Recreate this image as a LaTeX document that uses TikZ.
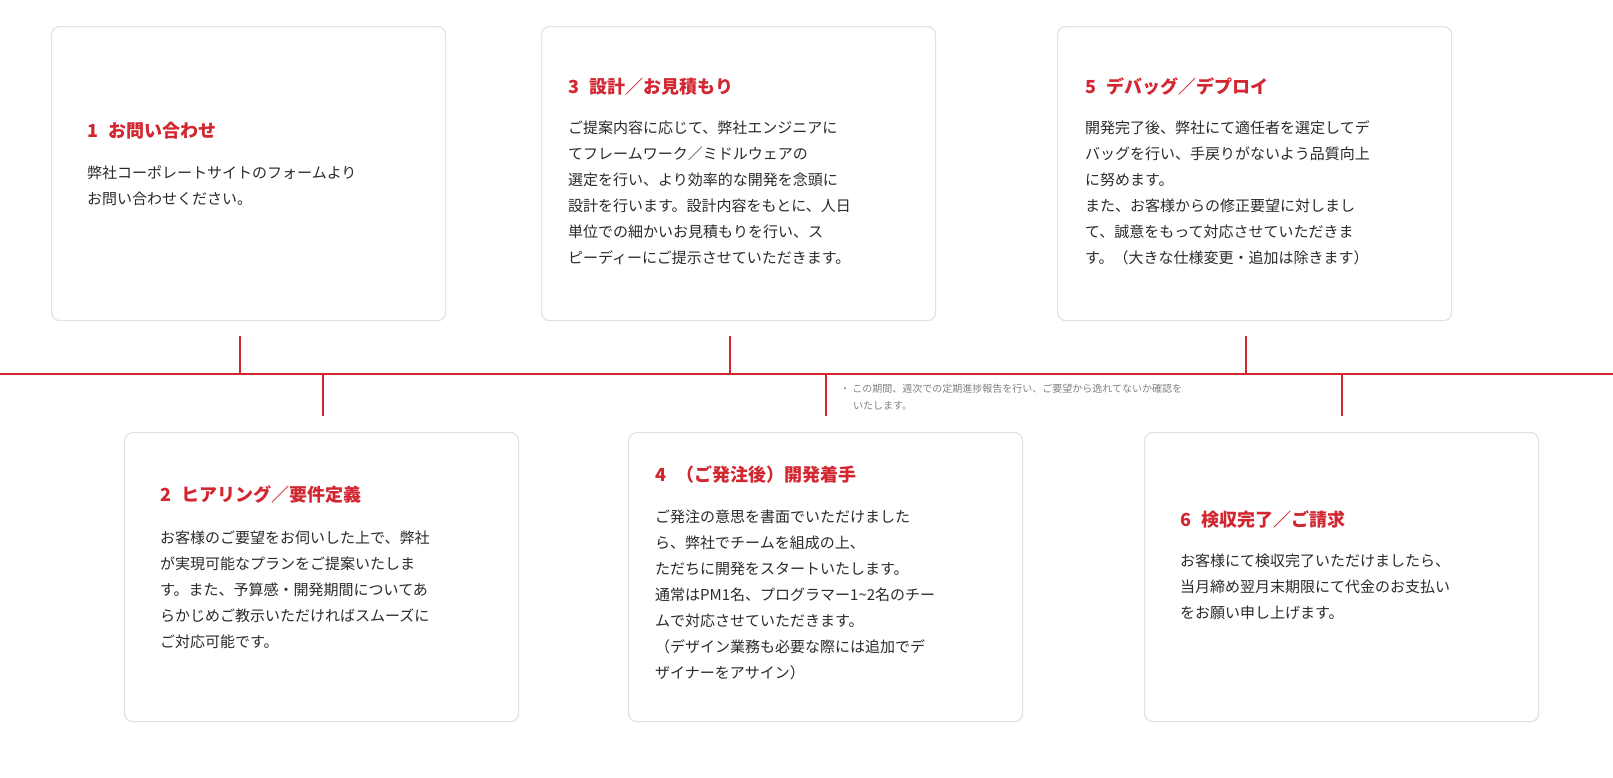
\documentclass[tikz,border=0pt]{standalone}
\usepackage{fontspec}
\setmainfont{Noto Sans CJK JP}
\usetikzlibrary{positioning}
\definecolor{accent}{HTML}{D22630}
\definecolor{bodytext}{HTML}{2A2A2A}
\definecolor{cardline}{HTML}{E2E2E2}
\tikzset{
  card/.style={draw=cardline,line width=1.2pt,rounded corners=8pt,fill=white,minimum width=394pt,inner sep=0pt},
  ctitle/.style={anchor=west,inner sep=0pt,text=accent,font=\fontsize{18}{22}\selectfont\bfseries},
  ctext/.style={anchor=north west,inner sep=0pt,align=left,text=bodytext,font=\fontsize{15}{26}\selectfont},
  tick/.style={draw=accent,line width=2pt}
}
\begin{document}
\begin{tikzpicture}[x=1pt,y=-1pt]
% upper cards
\node[card,minimum height=294pt,anchor=north west] (c1) at (51,26) {};
\node[card,minimum height=294pt,anchor=north west] (c3) at (541,26) {};
\node[card,minimum height=294pt,anchor=north west] (c5) at (1057,26) {};
% lower cards
\node[card,minimum height=289pt,anchor=north west] (c2) at (124,432) {};
\node[card,minimum height=289pt,anchor=north west] (c4) at (628,432) {};
\node[card,minimum height=289pt,anchor=north west] (c6) at (1144,432) {};

\node[ctitle] (t1) at (87,131) {1\hspace{0.6em}お問い合わせ};
\node[ctext] (x1) at (87,166) {弊社コーポレートサイトのフォームより\\お問い合わせください。};

\node[ctitle] (t3) at (568,87) {3\hspace{0.6em}設計／お見積もり};
\node[ctext] (x3) at (568,121) {ご提案内容に応じて、弊社エンジニアに\\てフレームワーク／ミドルウェアの\\選定を行い、より効率的な開発を念頭に\\設計を行います。設計内容をもとに、人日\\単位での細かいお見積もりを行い、ス\\ピーディーにご提示させていただきます。};

\node[ctitle] (t5) at (1085,87) {5\hspace{0.6em}デバッグ／デプロイ};
\node[ctext] (x5) at (1085,121) {開発完了後、弊社にて適任者を選定してデ\\バッグを行い、手戻りがないよう品質向上\\に努めます。\\また、お客様からの修正要望に対しまし\\て、誠意をもって対応させていただきま\\す。（大きな仕様変更・追加は除きます）};

\node[ctitle] (t2) at (160,495) {2\hspace{0.6em}ヒアリング／要件定義};
\node[ctext] (x2) at (160,531) {お客様のご要望をお伺いした上で、弊社\\が実現可能なプランをご提案いたしま\\す。また、予算感・開発期間についてあ\\らかじめご教示いただければスムーズに\\ご対応可能です。};

\node[ctitle] (t4) at (655,475) {4\hspace{0.6em}（ご発注後）開発着手};
\node[ctext] (x4) at (655,510) {ご発注の意思を書面でいただけました\\ら、弊社でチームを組成の上、\\ただちに開発をスタートいたします。\\通常はPM1名、プログラマー1\textasciitilde 2名のチー\\ムで対応させていただきます。\\（デザイン業務も必要な際には追加でデ\\ザイナーをアサイン）};

\node[ctitle] (t6) at (1180,519) {6\hspace{0.6em}検収完了／ご請求};
\node[ctext] (x6) at (1180,554) {お客様にて検収完了いただけましたら、\\当月締め翌月末期限にて代金のお支払い\\をお願い申し上げます。};

% timeline
\coordinate (l0) at (0,374);
\coordinate (l1) at (1613,374);
\draw[tick] (l0) -- (l1);
\foreach \tx/\nm in {240/a,730/b,1246/c}{
  \coordinate (u\nm) at (\tx,336);
  \draw[tick] (u\nm) -- (u\nm |- l0);
}
\foreach \tx/\nm in {323/a,826/b,1342/c}{
  \coordinate (d\nm) at (\tx,416);
  \draw[tick] (d\nm) -- (d\nm |- l0);
}
\node[anchor=north west,inner sep=0pt,align=left,text=gray,font=\fontsize{10}{17}\selectfont] (note) at (840,384)
  {・ この期間、週次での定期進捗報告を行い、ご要望から逸れてないか確認を\\\hspace{1.3em}いたします。};
\pgfresetboundingbox
\useasboundingbox (0,0) rectangle (1613,777);
\end{tikzpicture}
\end{document}
